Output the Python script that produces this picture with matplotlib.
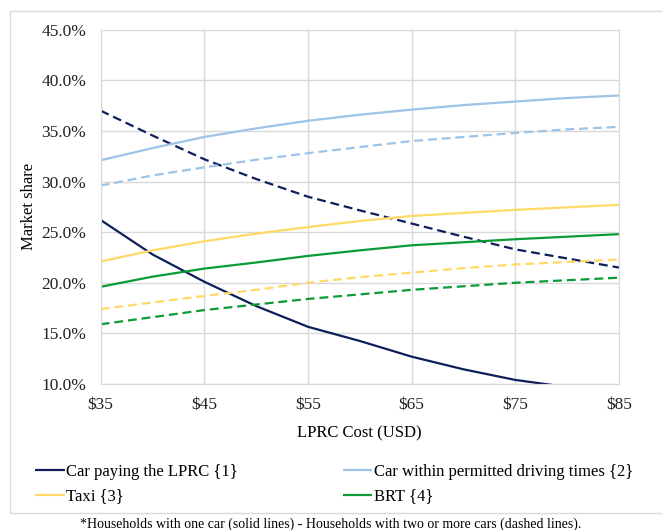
import matplotlib
matplotlib.use("Agg")
import matplotlib.pyplot as plt
from matplotlib.patches import Rectangle
from matplotlib.ticker import FuncFormatter

plt.rcParams['font.family'] = ['Liberation Serif', 'DejaVu Serif']

# LPRC cost (USD)
cost = [35, 40, 45, 50, 55, 60, 65, 70, 75, 80, 85]

# market shares (%) - households with one car (solid)
car_lprc_1 = [26.2, 22.8, 20.1, 17.7, 15.65, 14.25, 12.7, 11.45, 10.4, 9.7, 8.6]
car_perm_1 = [32.1, 33.3, 34.4, 35.25, 36.0, 36.6, 37.1, 37.55, 37.9, 38.25, 38.5]
taxi_1 = [22.1, 23.2, 24.1, 24.85, 25.5, 26.1, 26.6, 26.9, 27.2, 27.45, 27.7]
brt_1 = [19.6, 20.6, 21.4, 22.0, 22.65, 23.2, 23.7, 24.0, 24.3, 24.55, 24.8]

# households with two or more cars (dashed)
car_lprc_2 = [37.0, 34.55, 32.2, 30.25, 28.5, 27.15, 25.85, 24.55, 23.3, 22.4, 21.5]
car_perm_2 = [29.6, 30.6, 31.4, 32.15, 32.8, 33.4, 34.0, 34.4, 34.8, 35.15, 35.4]
taxi_2 = [17.4, 18.05, 18.7, 19.3, 20.0, 20.55, 21.0, 21.45, 21.8, 22.05, 22.3]
brt_2 = [15.9, 16.6, 17.3, 17.85, 18.4, 18.85, 19.3, 19.65, 20.0, 20.25, 20.5]

labels = ['Car paying the LPRC {1}', 'Car within permitted driving times {2}',
          'Taxi {3}', 'BRT {4}']
colors = ['#0E1E5B', '#9DC3E6', '#FFD966', '#0A9A36']

fig = plt.figure(figsize=(6.62, 5.30), dpi=100)
ax = fig.add_axes([0.152, 0.2755, 0.783, 0.6685])

solid = [car_lprc_1, car_perm_1, taxi_1, brt_1]
dashed = [car_lprc_2, car_perm_2, taxi_2, brt_2]
handles = []
for s, d, c, lab in zip(solid, dashed, colors, labels):
    h, = ax.plot(cost, s, color=c, lw=1.6, label=lab, solid_capstyle='butt')
    ax.plot(cost, d, color=c, lw=1.6, dashes=(4, 2.2))
    handles.append(h)

ax.set_xlim(35, 85)
ax.set_ylim(10, 45)
ax.set_xticks(range(35, 86, 10))
ax.set_yticks(range(10, 46, 5))
ax.xaxis.set_major_formatter(FuncFormatter(lambda v, p: '$%d' % v))
ax.yaxis.set_major_formatter(FuncFormatter(lambda v, p: '%.1f%%' % v))
ax.tick_params(length=0, labelsize=12.5, colors='#222222')
ax.tick_params(axis='x', pad=9.5)
ax.tick_params(axis='y', pad=10.5)
ax.grid(True, color='#D9D9D9', lw=1)
ax.set_axisbelow(True)
for sp in ax.spines.values():
    sp.set_color('#D9D9D9')

ax.set_xlabel('LPRC Cost (USD)', fontsize=12, labelpad=9)
ax.set_ylabel('Market share', fontsize=12, labelpad=3)

# legend, 2 columns, filled column-wise -> reorder to read 1 2 / 3 4
order = [0, 2, 1, 3]
fig.legend([handles[i] for i in order], [labels[i] for i in order], ncol=2,
           loc='upper left', bbox_to_anchor=(0.041, 0.14), frameon=False,
           fontsize=12, handlelength=1.75, handletextpad=0.1,
           columnspacing=6.3, labelspacing=0.5, borderpad=0)

# outer chart border
fig.patches.append(Rectangle((10 / 662, 1 - 513 / 530), 1.0, (513 - 11) / 530,
                             transform=fig.transFigure, fill=False,
                             edgecolor='#D9D9D9', lw=1))

fig.text(0.5, 1 - 524 / 530,
         '*Households with one car (solid lines) - Households with two or more cars (dashed lines).',
         ha='center', va='center', fontsize=10)

fig.savefig('out.png', dpi=100)
